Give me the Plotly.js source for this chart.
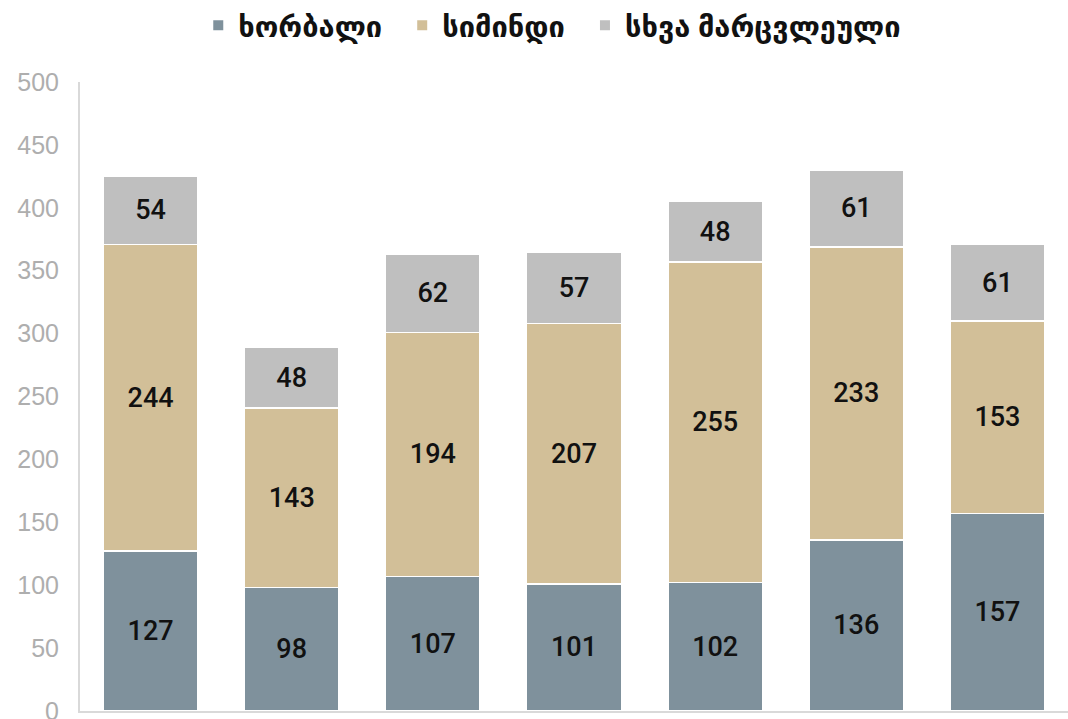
<!DOCTYPE html>
<html>
<head>
<meta charset="utf-8">
<script src="https://cdn.plot.ly/plotly-3.0.1.min.js"></script>
<style>html,body{margin:0;padding:0;background:#fff;overflow:hidden;}#chart{width:1068px;height:760px;}</style>
</head>
<body>
<div id="chart"></div>
<script>
const categories = ["1", "2", "3", "4", "5", "6", "7"];
const wheat = [127, 98, 107, 101, 102, 136, 157];
const corn = [244, 143, 194, 207, 255, 233, 153];
const otherGrains = [54, 48, 62, 57, 48, 61, 61];
const seriesNames = ["ხორბალი", "სიმინდი", "სხვა მარცვლეული"];
const colors = ["#7F919C", "#D2BF98", "#BFBFBF"];
const yTicks = [0, 50, 100, 150, 200, 250, 300, 350, 400, 450, 500];

const pad = "\u00a0\u00a0";
const mk = (vals, i) => ({
  type: "bar",
  x: categories,
  y: vals,
  name: i < 2 ? seriesNames[i] + pad : seriesNames[i],
  text: vals.map(String),
  textposition: "inside",
  insidetextanchor: "middle",
  constraintext: "none",
  textfont: {family: "Roboto, Noto Sans, sans-serif", size: 27, color: "#111111", weight: 500},
  marker: {color: colors[i], line: {color: "#ffffff", width: 1.5}},
  hoverinfo: "skip"
});

const data = [mk(wheat, 0), mk(corn, 1), mk(otherGrains, 2)];

const layout = {
  width: 1068, height: 760,
  margin: {l: 80, r: 0, t: 81, b: 49},
  barmode: "stack",
  bargap: 0.33,
  paper_bgcolor: "#ffffff",
  plot_bgcolor: "#ffffff",
  showlegend: true,
  legend: {
    orientation: "h", xref: "paper", yref: "paper",
    x: 0.478, xanchor: "center", y: 1.089, yanchor: "middle",
    font: {family: "Noto Sans, DejaVu Sans, sans-serif", size: 29, color: "#111111", weight: 700},
    itemsizing: "constant", traceorder: "normal", itemwidth: 30
  },
  xaxis: {
    type: "category", showticklabels: false, ticks: "",
    showline: true, linecolor: "#D9D9D9", linewidth: 2,
    showgrid: false, zeroline: false
  },
  yaxis: {
    range: [0, 500], tickvals: yTicks, ticktext: yTicks.map(String),
    showgrid: false, zeroline: false,
    showline: true, linecolor: "#D9D9D9", linewidth: 2,
    ticks: "", ticklabelstandoff: 14,
    tickfont: {family: "Liberation Sans, Arial, sans-serif", size: 25, color: "#AEAEAE"}
  }
};

Plotly.newPlot("chart", data, layout, {displayModeBar: false, staticPlot: true});
</script>
</body>
</html>
